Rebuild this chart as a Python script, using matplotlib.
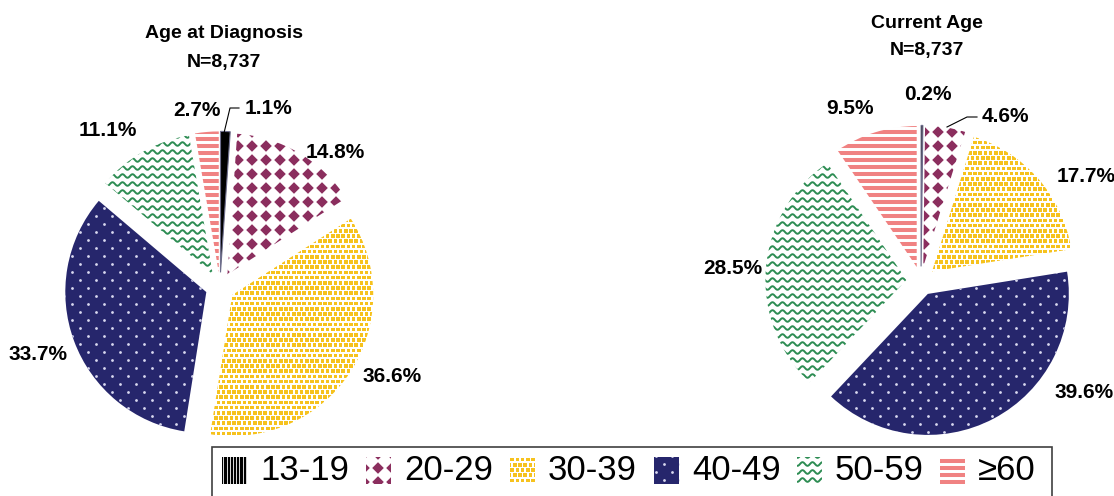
import numpy as np
import matplotlib
matplotlib.use('Agg')
import matplotlib.pyplot as plt
from matplotlib import font_manager
from matplotlib.patches import Rectangle
from matplotlib.collections import PolyCollection, LineCollection

plt.rcParams['font.family'] = ['Liberation Sans', 'DejaVu Sans']

# ---- data ----
categories = ['13-19', '20-29', '30-39', '40-49', '50-59', '≥60']
diagnosis_pct = [1.1, 14.8, 36.6, 33.7, 11.1, 2.7]
current_pct = [0.2, 4.6, 17.7, 39.6, 28.5, 9.5]
titles = [('Age at Diagnosis', 'N=8,737'), ('Current Age', 'N=8,737')]

MAROON = '#8B2E5E'
YELLOW = '#F6C21E'
NAVY = '#26266C'
GREEN = '#2C8C52'
SALMON = '#F08282'
patterns = ['vlines', 'diamond', 'dots', 'navy', 'wave', 'stripes']
face = ['black', 'white', 'white', NAVY, 'white', 'white']

W, H = 1114, 496
R = 141
EXP = 14.6

names = {f.name for f in font_manager.fontManager.ttflist}
leg_family = ['Liberation Sans Narrow', 'Liberation Sans', 'DejaVu Sans'] \
    if 'Liberation Sans Narrow' in names else ['Liberation Sans', 'DejaVu Sans']
leg_size = 28 if 'Liberation Sans Narrow' in names else 25


def add_pattern(ax, patch, kind, x0, y0, x1, y1):
    # draws a fill pattern clipped to patch (coords in pixels, y up)
    arts = []
    if kind == 'vlines':
        xs = np.arange(np.floor(x0), x1 + 3, 3.2)
        segs = [[(x, y0 - 2), (x, y1 + 2)] for x in xs]
        arts.append(LineCollection(segs, colors='white', linewidths=0.6))
    elif kind == 'diamond':
        s, h = 14, 5.8
        polys = []
        for gx in np.arange(np.floor(x0 / s) * s - s, x1 + s, s):
            for gy in np.arange(np.floor(y0 / s) * s - s, y1 + s, s):
                polys.append([(gx - h, gy), (gx, gy + h), (gx + h, gy), (gx, gy - h)])
        arts.append(PolyCollection(polys, facecolors=MAROON, edgecolors='none'))
    elif kind == 'dots':
        s, h = 5.2, 1.8
        polys = []
        for j, gy in enumerate(np.arange(np.floor(y0 / s) * s - s, y1 + s, s)):
            for gx in np.arange(np.floor(x0 / s) * s - s, x1 + s, s):
                ox = gx + (j % 2) * s * 0.5
                polys.append([(ox - h, gy - h), (ox + h, gy - h), (ox + h, gy + h), (ox - h, gy + h)])
        arts.append(PolyCollection(polys, facecolors=YELLOW, edgecolors='none'))
    elif kind == 'navy':
        pts = []
        for j, gy in enumerate(np.arange(np.floor(y0 / 8) * 8 - 8, y1 + 8, 8)):
            for gx in np.arange(np.floor(x0 / 16) * 16 - 16, x1 + 16, 16):
                pts.append((gx + (j % 2) * 8, gy))
        pts = np.array(pts)
        sc = ax.scatter(pts[:, 0], pts[:, 1], s=4.0, c='#D8D8F0', linewidths=0, zorder=3)
        sc.set_clip_path(patch)
        return
    elif kind == 'wave':
        xx = np.linspace(x0 - 5, x1 + 5, 400)
        segs = []
        for gy in np.arange(np.floor(y0 / 8) * 8 - 8, y1 + 8, 8):
            segs.append(np.column_stack([xx, gy + 1.8 * np.sin(2 * np.pi * xx / 10)]))
        arts.append(LineCollection(segs, colors=GREEN, linewidths=1.4))
    elif kind == 'stripes':
        segs = [[(x0 - 2, y), (x1 + 2, y)] for y in np.arange(np.floor(y0 / 7) * 7 - 7, y1 + 7, 7)]
        arts.append(LineCollection(segs, colors=SALMON, linewidths=2.9, capstyle='butt'))
    for a in arts:
        a.set_zorder(3)
        ax.add_collection(a)
        a.set_clip_path(patch)


fig = plt.figure(figsize=(W / 100, H / 100), dpi=100)
ax = fig.add_axes([0, 0, 1, 1])

pie_centers = [(220, 287), (921, 281)]
for (cx, cy), vals in zip(pie_centers, [diagnosis_pct, current_pct]):
    wedges, _ = ax.pie(vals, startangle=90, counterclock=False, radius=R,
                       center=(cx, H - cy), explode=[EXP] * len(vals), colors=face,
                       wedgeprops=dict(linewidth=0))
    for w, kind in zip(wedges, patterns):
        w.set_zorder(2)
        if kind == 'vlines':
            w.set_edgecolor('#6E6E8C')
            w.set_linewidth(0.8)
            continue
        add_pattern(ax, w, kind, cx - R - 30, H - cy - R - 30, cx + R + 30, H - cy + R + 30)

# titles
for (t1, t2), (tx, ty) in zip(titles, [(224, 34), (927, 23)]):
    ax.text(tx, H - ty, t1, ha='center', va='center', fontsize=14, fontweight='bold')
    ax.text(tx, H - ty - 28, t2, ha='center', va='center', fontsize=14, fontweight='bold')

# slice labels (pixel positions)
lab_kw = dict(fontsize=15, fontweight='bold', va='center')
left_pos = [(245, 109, 'left'), (335, 153, 'center'), (392, 377, 'center'),
            (38, 355, 'center'), (108, 131, 'center'), (197, 111, 'center')]
right_pos = [(928, 94, 'center'), (982, 117, 'left'), (1086, 177, 'center'),
             (1084, 393, 'center'), (733, 268, 'center'), (850, 108, 'center')]
for vals, pos in [(diagnosis_pct, left_pos), (current_pct, right_pos)]:
    for v, (x, y, ha) in zip(vals, pos):
        ax.text(x, H - y, f'{v:.1f}%', ha=ha, **lab_kw)

# leader lines
ax.plot([224, 230, 239], [H - 133, H - 108, H - 108], color='black', lw=0.8, zorder=4)
ax.plot([947, 967, 977], [H - 127, H - 117, H - 117], color='black', lw=0.8, zorder=4)

# legend (drawn by hand to keep the fill patterns)
ax.add_patch(Rectangle((212, -10), 840, H - 447 + 10, facecolor='white',
                       edgecolor='#404040', lw=1.2, zorder=1))
leg_x = [222, 366, 510, 654, 797, 940]
for x, cat, kind, fc in zip(leg_x, categories, patterns, face):
    box = Rectangle((x, H - 484), 25, 27, facecolor=fc, edgecolor='none', zorder=2)
    ax.add_patch(box)
    add_pattern(ax, box, kind, x - 5, H - 490, x + 30, H - 452)
    ax.text(x + 38, H - 470, cat, fontsize=leg_size, va='center', ha='left',
            family=leg_family)

ax.set_xlim(0, W)
ax.set_ylim(0, H)
ax.set_aspect('auto')
ax.axis('off')

fig.savefig('out.png', dpi=100)
